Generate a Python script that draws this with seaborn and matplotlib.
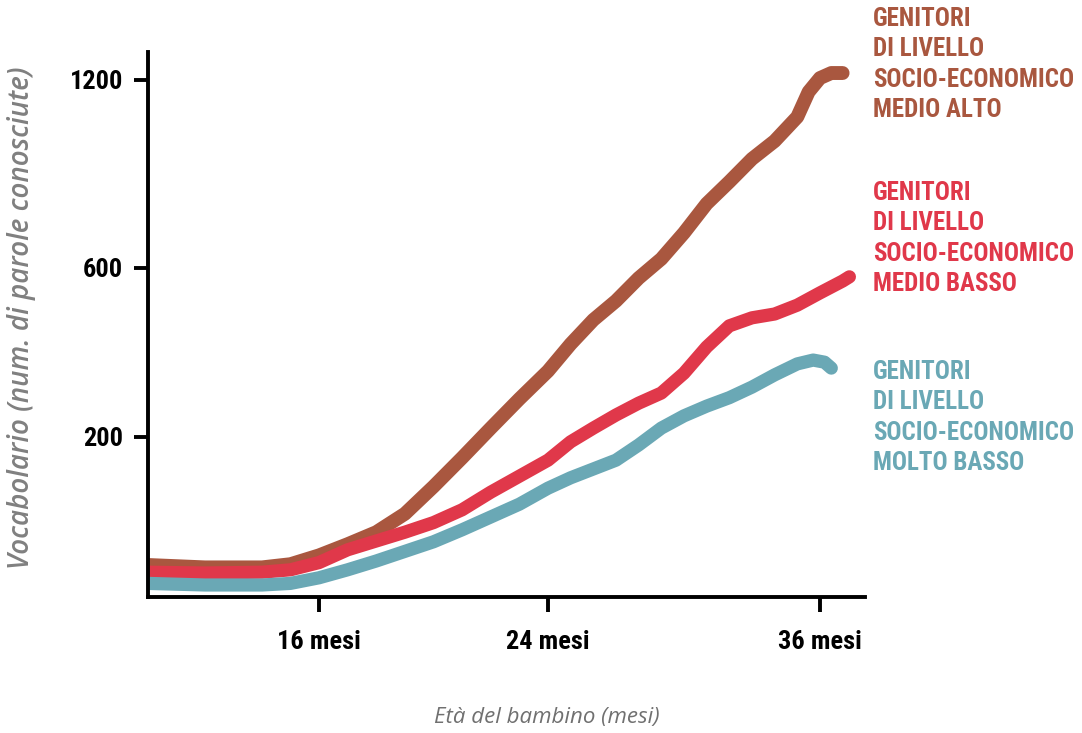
import numpy as np
import pandas as pd
import matplotlib
matplotlib.use("Agg")
import matplotlib.pyplot as plt
import seaborn as sns
from matplotlib import font_manager

# ---- data ----
months_alto = [10, 12, 14, 15, 16, 17, 18, 19, 20, 21, 22, 23, 24, 25, 26, 27, 28, 29, 30, 31, 32, 33, 34, 35, 35.5, 36, 36.5, 37]
vocab_alto = [40, 37, 37, 41, 52, 66, 81, 104, 138, 174, 221, 290, 356, 420, 477, 522, 576, 629, 712, 805, 875, 948, 1005, 1082, 1162, 1206, 1222, 1222]

months_basso = [10, 12, 14, 15, 16, 17, 18, 19, 20, 21, 22, 23, 24, 25, 26, 27, 28, 29, 30, 31, 32, 33, 34, 35, 36, 37, 37.3]
vocab_basso = [31, 30, 31, 34, 43, 59, 70, 81, 93, 109, 131, 151, 171, 194, 221, 252, 280, 304, 351, 413, 463, 482, 491, 512, 541, 569, 579]

months_molto = [10, 12, 14, 15, 16, 17, 18, 19, 20, 21, 22, 23, 24, 25, 26, 27, 28, 29, 30, 31, 32, 33, 34, 35, 35.7, 36.2, 36.5]
vocab_molto = [17, 15, 15, 17, 24, 34, 45, 57, 69, 84, 100, 116, 136, 149, 160, 171, 190, 221, 250, 273, 293, 318, 347, 373, 382, 377, 363]

series_names = ["MEDIO ALTO", "MEDIO BASSO", "MOLTO BASSO"]
series_colors = ["#A9573F", "#E0384A", "#6AA8B5"]
legend_text = [
    "GENITORI\nDI LIVELLO\nSOCIO-ECONOMICO\nMEDIO ALTO",
    "GENITORI\nDI LIVELLO\nSOCIO-ECONOMICO\nMEDIO BASSO",
    "GENITORI\nDI LIVELLO\nSOCIO-ECONOMICO\nMOLTO BASSO",
]
x_ticks = [16, 24, 36]
x_ticklabels = ["16 mesi", "24 mesi", "36 mesi"]
y_ticks = [200, 600, 1200]
y_ticklabels = ["200", "600", "1200"]

# non-linear axis anchors (value -> relative position), as drawn in the original
x_anchor_val = [4, 10, 16, 24, 36, 44]
x_anchor_pos = [-171, 0, 171, 400, 672, 853]
y_anchor_val = [-500, 0, 200, 600, 1200, 2000]
y_anchor_pos = [-400, 0, 160, 329, 517, 768]

frames = []
for name, mx, vy in zip(series_names,
                        [months_alto, months_basso, months_molto],
                        [vocab_alto, vocab_basso, vocab_molto]):
    frames.append(pd.DataFrame({"mese": mx, "vocab": vy, "gruppo": name}))
df = pd.concat(frames, ignore_index=True)

installed = {f.name for f in font_manager.fontManager.ttflist}
cond_pref = ["Roboto Condensed", "Open Sans Condensed", "Liberation Sans Narrow",
             "Noto Sans Condensed", "Roboto", "DejaVu Sans"]
cond = [f for f in cond_pref if f in installed] + ["DejaVu Sans"]
narrow_ok = cond[0] in ("Roboto Condensed", "Open Sans Condensed", "Liberation Sans Narrow", "Noto Sans Condensed")
scale = 1.0 if narrow_ok else 0.85

sns.set_theme(style="white")
plt.rcParams["font.family"] = cond

fig = plt.figure(figsize=(10.82, 7.33), dpi=100)
ax = fig.add_axes([148 / 1082, 1 - 597 / 733, (865 - 148) / 1082, (597 - 52) / 733])

widths = [10, 9.5, 9.5]
for name, col, lw in zip(series_names, series_colors, widths):
    sub = df[df["gruppo"] == name]
    sns.lineplot(data=sub, x="mese", y="vocab", color=col, linewidth=lw,
                 sort=False, estimator=None, ax=ax, legend=False,
                 solid_capstyle="round", solid_joinstyle="round")

def fx(v):
    return np.interp(v, x_anchor_val, x_anchor_pos)
def fx_inv(p):
    return np.interp(p, x_anchor_pos, x_anchor_val)
def fy(v):
    return np.interp(v, y_anchor_val, y_anchor_pos)
def fy_inv(p):
    return np.interp(p, y_anchor_pos, y_anchor_val)

ax.set_xscale("function", functions=(fx, fx_inv))
ax.set_yscale("function", functions=(fy, fy_inv))
ax.set_xlim(10, 37.99)
ax.set_ylim(0, 1289)

ax.set_xticks(x_ticks)
ax.set_xticklabels(x_ticklabels)
ax.set_yticks(y_ticks)
ax.set_yticklabels(y_ticklabels)
ax.minorticks_off()

for s in ["top", "right"]:
    ax.spines[s].set_visible(False)
for s in ["left", "bottom"]:
    ax.spines[s].set_color("black")
    ax.spines[s].set_linewidth(2.8)

ax.tick_params(axis="x", direction="out", length=11, width=2.8, color="black",
               pad=13, labelsize=19 * scale, bottom=True, labelcolor="black")
ax.tick_params(axis="y", direction="out", length=10, width=2.8, color="black",
               pad=8, labelsize=19 * scale, left=True, labelcolor="black")
for lab in ax.get_xticklabels() + ax.get_yticklabels():
    lab.set_fontweight("bold")
    lab.set_family(cond)

ax.set_xlabel("")
ax.set_ylabel("")
fig.text(547 / 1082, 1 - 717 / 733, "Età del bambino (mesi)", ha="center", va="center",
         fontsize=16, style="italic", color="#707070", family=["Open Sans", "DejaVu Sans"])
fig.text(22 / 1082, 1 - 318 / 733, "Vocabolario (num. di parole conosciute)", ha="center",
         va="center", rotation=90, fontsize=20, style="italic", color="#808080",
         fontweight="semibold", family=["Open Sans", "DejaVu Sans"])

tops = [7, 181, 360]
for txt, col, t in zip(legend_text, series_colors, tops):
    fig.text(873 / 1082, 1 - t / 733, txt, ha="left", va="top", fontsize=18 * scale,
             fontweight="bold", color=col, family=cond, linespacing=1.34)

fig.savefig("out.png", dpi=100, facecolor="white")
